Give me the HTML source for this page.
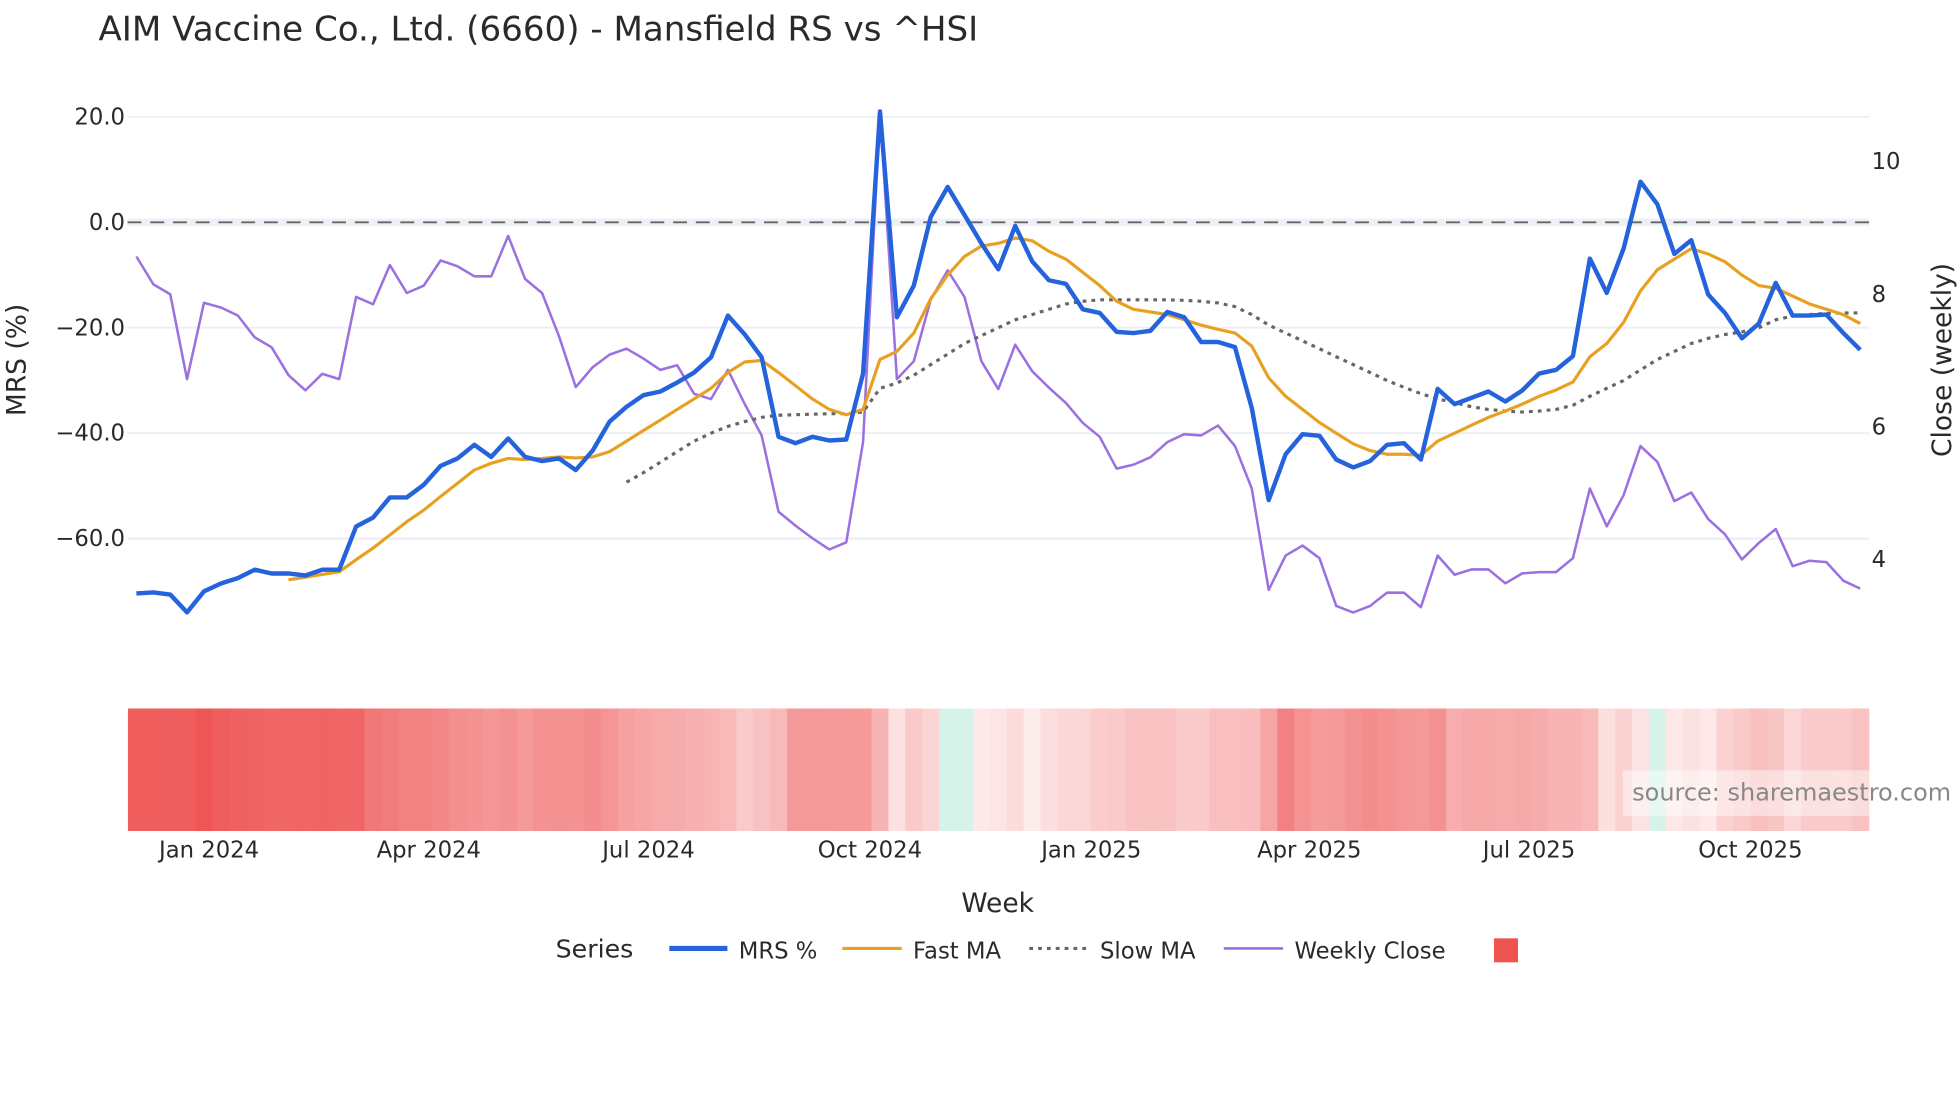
<!DOCTYPE html>
<html><head><meta charset="utf-8">
<style>
html,body{margin:0;padding:0;background:#fff;}
svg{display:block;font-family:"DejaVu Sans","Liberation Sans",sans-serif;}
</style></head>
<body>
<svg id="chart" width="1960" height="1102" viewBox="0 0 1552 872.6" xmlns="http://www.w3.org/2000/svg">
<text x="78" y="32" font-size="27" fill="#2a2a2a">AIM Vaccine Co., Ltd. (6660) - Mansfield RS vs ^HSI</text>
<g id="grid"></g>
<g id="heat"></g>
<g id="series"></g>
<g id="axes"></g>
<text transform="translate(20,285) rotate(-90)" text-anchor="middle" font-size="21" fill="#2a2a2a">MRS (%)</text>
<text transform="translate(1545,285) rotate(-90)" text-anchor="middle" font-size="21" fill="#2a2a2a">Close (weekly)</text>
<text x="790" y="722" text-anchor="middle" font-size="21" fill="#2a2a2a">Week</text>
<rect x="1285" y="610" width="195" height="36" fill="#fff" opacity="0.45"/>
<text x="1545" y="634" text-anchor="end" font-size="19" fill="#888">source: sharemaestro.com</text>
<g font-size="18" fill="#2a2a2a">
<text x="440" y="758" font-size="20">Series</text>
<line x1="530" y1="751" x2="576" y2="751" stroke="#2563dc" stroke-width="4"/>
<text x="585" y="759">MRS %</text>
<line x1="667" y1="751" x2="714" y2="751" stroke="#e8a020" stroke-width="2.5"/>
<text x="723" y="759">Fast MA</text>
<line x1="815" y1="751" x2="860" y2="751" stroke="#666" stroke-width="2.5" stroke-dasharray="3,4"/>
<text x="871" y="759">Slow MA</text>
<line x1="969" y1="751" x2="1016" y2="751" stroke="#9b70e0" stroke-width="2"/>
<text x="1025" y="759">Weekly Close</text>
<rect x="1183" y="743" width="19" height="19" fill="#ef5350"/>
</g>
</svg>
<script>
const mrs=[-70.4,-70.2,-70.6,-74,-70,-68.5,-67.5,-65.9,-66.6,-66.6,-67,-65.9,-65.9,-57.7,-56,-52.2,-52.2,-49.8,-46.2,-44.8,-42.2,-44.5,-41,-44.5,-45.3,-44.8,-47,-43.3,-37.8,-35,-32.8,-32.1,-30.4,-28.5,-25.6,-17.7,-21.3,-25.6,-40.7,-41.9,-40.7,-41.4,-41.2,-28.7,21,-18,-12,1,6.7,1.4,-4,-8.9,-0.7,-7.4,-11,-11.7,-16.5,-17.2,-20.8,-21,-20.6,-17,-18,-22.7,-22.7,-23.7,-35.2,-52.7,-44,-40.2,-40.5,-45,-46.5,-45.3,-42.2,-41.9,-45,-31.6,-34.5,-33.3,-32.1,-34,-31.9,-28.7,-28,-25.4,-6.9,-13.4,-5,7.7,3.4,-6,-3.4,-13.7,-17.2,-22,-19.2,-11.5,-17.7,-17.7,-17.5,-21,-24.2];
const fastMA=[null,null,null,null,null,null,null,null,null,-67.8,-67.3,-66.8,-66.3,-64,-61.8,-59.3,-56.8,-54.6,-52,-49.5,-47,-45.7,-44.8,-45,-44.8,-44.5,-44.7,-44.5,-43.5,-41.5,-39.5,-37.5,-35.5,-33.5,-31.5,-28.5,-26.5,-26.2,-28.5,-31,-33.5,-35.5,-36.5,-35.5,-26,-24.5,-21,-14.5,-10,-6.5,-4.5,-4,-3,-3.5,-5.5,-7,-9.5,-12,-15,-16.5,-17,-17.5,-18.5,-19.5,-20.3,-21,-23.5,-29.5,-33,-35.5,-38,-40,-42,-43.3,-44,-44,-44.2,-41.5,-40,-38.5,-37,-35.8,-34.5,-33,-31.8,-30.3,-25.5,-23,-19,-13,-9,-7,-5,-6,-7.5,-10,-12,-12.5,-14,-15.5,-16.5,-17.5,-19.2];
const slowMA=[null,null,null,null,null,null,null,null,null,null,null,null,null,null,null,null,null,null,null,null,null,null,null,null,null,null,null,null,null,-49.3,-47.5,-45.5,-43.5,-41.5,-40,-38.7,-37.8,-37,-36.6,-36.5,-36.4,-36.3,-36.3,-36,-31.5,-30.5,-29,-27,-25,-23,-21.5,-20,-18.5,-17.5,-16.5,-15.5,-15,-14.7,-14.7,-14.7,-14.7,-14.7,-14.8,-15,-15.3,-16,-17.5,-19.5,-21,-22.5,-24,-25.5,-27,-28.5,-30,-31.3,-32.5,-33.5,-34.2,-35,-35.5,-35.8,-36,-35.8,-35.5,-34.7,-33,-31.5,-30,-28,-26,-24.5,-23,-22,-21.3,-20.8,-20,-18.5,-17.8,-17.5,-17.3,-17.2,-17.2];
const closeW=[8.57,8.15,8.0,6.72,7.87,7.8,7.68,7.35,7.2,6.78,6.55,6.8,6.72,7.96,7.85,8.44,8.02,8.13,8.51,8.42,8.27,8.27,8.88,8.23,8.02,7.37,6.6,6.9,7.09,7.18,7.03,6.86,6.93,6.5,6.42,6.86,6.34,5.87,4.72,4.51,4.32,4.15,4.26,5.77,10.76,6.72,6.99,7.92,8.36,7.96,6.99,6.57,7.24,6.84,6.59,6.36,6.06,5.85,5.37,5.43,5.54,5.77,5.89,5.87,6.02,5.71,5.07,3.54,4.06,4.21,4.02,3.3,3.2,3.3,3.5,3.5,3.28,4.06,3.77,3.85,3.85,3.64,3.79,3.81,3.81,4.02,5.07,4.5,4.97,5.71,5.47,4.88,5.01,4.61,4.38,4.0,4.25,4.46,3.9,3.98,3.96,3.68,3.56];
const heatVals=[-70.4,-70.4,-70.2,-70.6,-74,-70,-68.5,-67.5,-65.9,-66.6,-66.6,-67,-65.9,-65.9,-57.7,-56,-52.2,-52.2,-49.8,-46.2,-44.8,-42.2,-44.5,-41,-44.5,-45.3,-44.8,-47,-43.3,-37.8,-35,-32.8,-32.1,-30.4,-28.5,-25.6,-17.7,-21.3,-25.6,-40.7,-41.9,-40.7,-41.4,-41.2,-28.7,-6,-18,-12,1,6.7,-2,-4,-8.9,-0.7,-7.4,-11,-11.7,-16.5,-17.2,-20.8,-21,-20.6,-17,-18,-22.7,-22.7,-23.7,-35.2,-52.7,-44,-40.2,-40.5,-45,-46.5,-45.3,-42.2,-41.9,-45,-31.6,-34.5,-33.3,-32.1,-34,-31.9,-28.7,-28,-25.4,-6.9,-13.4,-5,7.7,-3,-6,-3.4,-13.7,-17.2,-22,-19.2,-11.5,-17.7,-17.7,-17.5,-21];
const yTicks=[20,0,-20,-40,-60];
const y2Ticks=[10,8,6,4];
const xTickLabels=["Jan 2024","Apr 2024","Jul 2024","Oct 2024","Jan 2025","Apr 2025","Jul 2025","Oct 2025"];
const xTickWeeks=[4.3,17.3,30.3,43.4,56.5,69.4,82.4,95.5];

const NS="http://www.w3.org/2000/svg";
const X0=108,X1=1473,PL=101,PR=1480;
const n=mrs.length;
const xs=i=>X0+i*(X1-X0)/(n-1);
const ys=v=>176-v*83.5/20;
const ys2=v=>128+(10-v)*52.5;
function mk(tag,attrs,parent){const e=document.createElementNS(NS,tag);for(const k in attrs)e.setAttribute(k,attrs[k]);parent.appendChild(e);return e;}
const grid=document.getElementById('grid'),axes=document.getElementById('axes'),ser=document.getElementById('series'),heat=document.getElementById('heat');

yTicks.forEach(v=>{
  if(v!==0){const l=mk('line',{x1:PL,x2:PR,y1:ys(v),y2:ys(v),stroke:'#eceef3','stroke-width':1.5},grid);
  
  }
  const t=mk('text',{x:99,y:ys(v)+6,'text-anchor':'end','font-size':18,fill:'#2a2a2a'},axes);
  t.textContent=(v<0?'\u2212'+Math.abs(v).toFixed(1):v.toFixed(1));
  
  
});
const band=mk('rect',{x:PL,y:ys(0)-3,width:PR-PL,height:6,fill:'#eef0f8'},grid);


const zl=mk('line',{x1:PL,x2:PR,y1:ys(0),y2:ys(0),stroke:'#666','stroke-width':1.5,'stroke-dasharray':'11,7'},grid);


y2Ticks.forEach(v=>{
  const t=mk('text',{x:1482,y:ys2(v)+6,'font-size':18,fill:'#2a2a2a'},axes);
  t.textContent=String(v);
  
  
});
xTickLabels.forEach((s,k)=>{
  const t=mk('text',{x:xs(xTickWeeks[k]),y:679,'text-anchor':'middle','font-size':18,fill:'#2a2a2a'},axes);
  t.textContent=s;
  
  
});

const step=(X1-X0)/(n-1);
function heatColor(v){
  if(v>=0) return 'rgb(214,243,234)';
  const t=Math.min(1,0.1+0.82*Math.abs(v)/70);
  const r=Math.round(255-(255-238)*t),g=Math.round(255-(255-80)*t),b=Math.round(255-(255-80)*t);
  return 'rgb('+r+','+g+','+b+')';
}
heatVals.forEach((v,i)=>{
  const x0=Math.max(PL,xs(i)-step/2),x1=Math.min(PR,xs(i)+step/2);
  const r=mk('rect',{x:x0.toFixed(2),y:561,width:(x1-x0+0.5).toFixed(2),height:97,fill:heatColor(v)},heat);
  
  
});

function path(arr,yf){let d='',pen=false;arr.forEach((v,i)=>{if(v===null){pen=false;return;}d+=(pen?'L':'M')+xs(i).toFixed(1)+','+yf(v).toFixed(1);pen=true;});return d;}
const pc=mk('path',{d:path(closeW,ys2),fill:'none',stroke:'#9b70e0','stroke-width':2,'stroke-linejoin':'round'},ser);


const ps=mk('path',{d:path(slowMA,ys),fill:'none',stroke:'#666','stroke-width':2.5,'stroke-dasharray':'3,4'},ser);


const pf=mk('path',{d:path(fastMA,ys),fill:'none',stroke:'#e8a020','stroke-width':2.5,'stroke-linejoin':'round'},ser);


const pm=mk('path',{d:path(mrs,ys),fill:'none',stroke:'#2563dc','stroke-width':3.5,'stroke-linejoin':'round'},ser);


</script>
</body></html>
